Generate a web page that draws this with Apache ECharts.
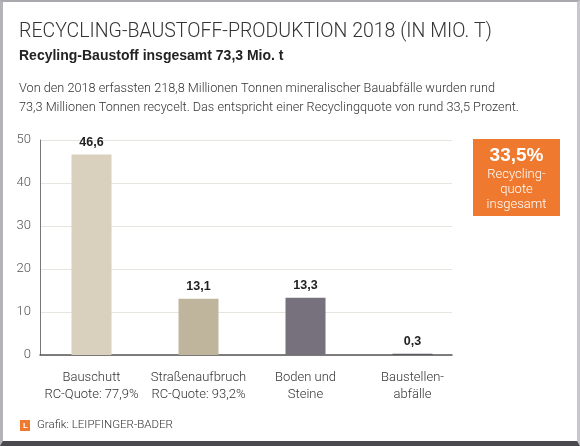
<!DOCTYPE html>
<html>
<head>
<meta charset="utf-8">
<script src="https://cdn.jsdelivr.net/npm/echarts@6/dist/echarts.min.js"></script>
<style>
html,body{margin:0;padding:0;background:#fff;}
#frame{position:absolute;left:0;top:0;width:574px;height:439px;border-top:2px solid #a9a9ad;border-left:3px solid #b4b4b8;border-right:3px solid #c8c8cc;border-bottom:5px solid #4a4a4e;background:#fff;}
#chart{position:absolute;left:0;top:0;width:580px;height:446px;}
</style>
</head>
<body>
<div id="frame"></div>
<div id="chart"></div>
<script>
const titleText = 'RECYCLING-BAUSTOFF-PRODUKTION 2018 (IN MIO. T)';
const subtitleText = 'Recyling-Baustoff insgesamt 73,3 Mio. t';
const introLines = [
  'Von den 2018 erfassten 218,8 Millionen Tonnen mineralischer Bauabfälle wurden rund',
  '73,3 Millionen Tonnen recycelt. Das entspricht einer Recyclingquote von rund 33,5 Prozent.'
];
const categories = ['Bauschutt\nRC-Quote: 77,9%', 'Straßenaufbruch\nRC-Quote: 93,2%', 'Boden und\nSteine', 'Baustellen-\nabfälle'];
const values = [46.6, 13.1, 13.3, 0.3];
const barColors = ['#d9d0be', '#bfb59d', '#76717c', '#5e5a66'];
const yTicks = [0, 10, 20, 30, 40, 50];
const quoteValue = '33,5%';
const quoteLines = ['Recycling-', 'quote', 'insgesamt'];
const sourceText = 'Grafik: LEIPFINGER-BADER';

const chart = echarts.init(document.getElementById('chart'), null, {renderer: 'canvas'});
const fmt = v => String(v).replace('.', ',');

chart.setOption({
  animation: false,
  backgroundColor: 'transparent',
  textStyle: {fontFamily: 'Roboto, "Liberation Sans", sans-serif'},
  grid: [
    {left: 40, top: 140, width: 412, height: 215},
    {left: 38, top: 140, width: 428, height: 215}
  ],
  xAxis: [
    {type: 'category', gridIndex: 0, data: categories,
     axisLine: {show: true, lineStyle: {color: '#555', width: 1.5}},
     axisTick: {show: false}, axisLabel: {show: false}, splitLine: {show: false}},
    {type: 'category', gridIndex: 1, data: categories,
     axisLine: {show: false}, axisTick: {show: false},
     axisLabel: {show: true, interval: 0, color: '#333', fontSize: 13, fontWeight: 300, lineHeight: 17, margin: 14,
                 fontFamily: 'Roboto, sans-serif'}}
  ],
  yAxis: [
    {type: 'value', gridIndex: 0, min: yTicks[0], max: yTicks[yTicks.length - 1], interval: 10,
     axisLine: {show: true, lineStyle: {color: '#777', width: 1}},
     axisTick: {show: false},
     axisLabel: {color: '#555', fontSize: 13, fontWeight: 300, margin: 9, fontFamily: 'Roboto, sans-serif'},
     splitLine: {show: true, lineStyle: {color: '#e8e5e0', width: 1}}},
    {type: 'value', gridIndex: 1, min: yTicks[0], max: yTicks[yTicks.length - 1], interval: 10,
     show: false, splitLine: {show: false}}
  ],
  series: [{
    type: 'bar', xAxisIndex: 1, yAxisIndex: 1,
    data: values.map((v, i) => ({value: v, itemStyle: {color: barColors[i]}})),
    barWidth: 40,
    label: {show: true, position: 'top', distance: 6, color: '#222', fontWeight: 'bold', fontSize: 12.5,
            fontFamily: '"Liberation Sans", Arial, sans-serif',
            formatter: p => fmt(p.value)}
  }],
  graphic: [
    {type: 'text', left: 19, top: 22, style: {text: titleText, fill: '#333', font: '300 19.5px Roboto, sans-serif'}},
    {type: 'text', left: 19, top: 49, style: {text: subtitleText, fill: '#222', font: 'bold 14px "Liberation Sans", Arial, sans-serif'}},
    {type: 'text', left: 19, top: 80, style: {text: introLines.join('\n'), fill: '#333', lineHeight: 18.5, font: '300 12.7px Roboto, sans-serif'}},
    {type: 'rect', shape: {x: 473, y: 139, width: 87, height: 77}, style: {fill: '#ef7a2f'}},
    {type: 'text', x: 516.5, y: 146, style: {text: quoteValue, fill: '#fff', align: 'center', font: 'bold 19px "Liberation Sans", Arial, sans-serif'}},
    {type: 'text', x: 516.5, y: 167, style: {text: quoteLines.join('\n'), fill: '#fff', align: 'center', lineHeight: 15, font: '300 13px Roboto, sans-serif'}},
    {type: 'rect', shape: {x: 20, y: 420, width: 10, height: 11}, style: {fill: '#ef7a2f'}},
    {type: 'text', x: 23, y: 421.5, style: {text: 'L', fill: '#fff', font: 'bold 8px sans-serif'}},
    {type: 'text', left: 37, top: 419, style: {text: sourceText, fill: '#333', font: '300 11.5px Roboto, sans-serif'}}
  ]
});
</script>
</body>
</html>
